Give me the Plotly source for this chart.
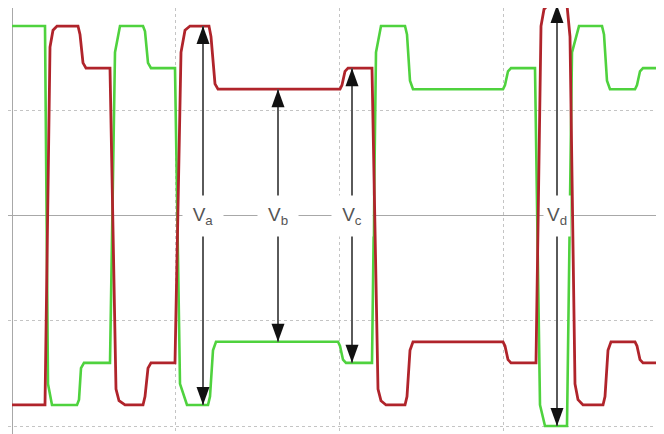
import plotly.graph_objects as go

# Time axis in samples (one grid division = 163.67 samples), voltage in divisions
t_green = [0, 33, 36, 40, 65, 67, 69, 72, 98, 103, 108, 131, 133, 136, 139,
           163, 168, 175, 196, 198, 201, 204, 326, 328, 331, 334, 360, 364, 369,
           393, 395, 398, 401, 491, 493, 496, 499, 523, 528, 533, 555, 560, 567,
           590, 592, 595, 598, 623, 625, 628, 631, 652]
v_green = [1.8, 1.8, -1.6, -1.8, -1.8, -1.75, -1.45, -1.4, -1.4, 1.55, 1.8, 1.8, 1.75, 1.45, 1.4,
           1.4, -1.6, -1.8, -1.8, -1.72, -1.28, -1.2, -1.2, -1.24, -1.37, -1.4, -1.4, 1.55, 1.8,
           1.8, 1.72, 1.28, 1.2, 1.2, 1.24, 1.37, 1.4, 1.4, -1.8, -2.0, -2.0, 1.55, 1.8,
           1.8, 1.72, 1.28, 1.2, 1.2, 1.24, 1.37, 1.4, 1.4]

t_red = [0, 33, 38, 41, 45, 66, 68, 71, 74, 98, 104, 107, 113, 131, 133, 136, 139,
         163, 169, 173, 178, 197, 199, 203, 206, 328, 330, 333, 336, 360, 366, 369, 374,
         393, 395, 398, 401, 491, 493, 496, 499, 524, 529, 532, 536, 555, 558, 563, 566, 571,
         591, 593, 596, 599, 623, 625, 628, 631, 652]
v_red = [-1.8, -1.8, 1.6, 1.76, 1.8, 1.8, 1.72, 1.45, 1.4, 1.4, -1.65, -1.76, -1.8, -1.8, -1.72, -1.45, -1.4,
         -1.4, 1.55, 1.76, 1.8, 1.8, 1.7, 1.25, 1.2, 1.2, 1.24, 1.37, 1.4, 1.4, -1.65, -1.76, -1.8,
         -1.8, -1.72, -1.28, -1.2, -1.2, -1.24, -1.37, -1.4, -1.4, 1.8, 1.96, 2.0, 2.0, 1.7, -1.6, -1.75, -1.8,
         -1.8, -1.72, -1.28, -1.2, -1.2, -1.24, -1.37, -1.4, -1.4]

arrow_labels = ["V<sub>a</sub>", "V<sub>b</sub>", "V<sub>c</sub>", "V<sub>d</sub>"]
arrow_t = [191, 266, 340, 545]
arrow_top = [1.8, 1.2, 1.4, 2.0]
arrow_bottom = [-1.8, -1.2, -1.4, -2.0]
label_widths = [36, 36, 36, 22]

DIV_T = 163.67

fig = go.Figure()
fig.add_trace(go.Scatter(x=t_green, y=v_green, mode="lines",
                         line=dict(color="#4fd23e", width=2.6), hoverinfo="skip"))
fig.add_trace(go.Scatter(x=t_red, y=v_red, mode="lines",
                         line=dict(color="#b0242b", width=2.8), hoverinfo="skip"))

shapes = []
annotations = []
for lab, xt, yt, yb, w in zip(arrow_labels, arrow_t, arrow_top, arrow_bottom, label_widths):
    shapes.append(dict(type="line", xref="x", yref="y", x0=xt, x1=xt, y0=yb, y1=yt,
                       line=dict(color="#5a5a5a", width=2)))
    shapes.append(dict(type="path", xref="x", yref="y", xsizemode="pixel", ysizemode="pixel",
                       xanchor=xt, yanchor=yt, path="M0,0 L-6.5,-18 L6.5,-18 Z",
                       fillcolor="#111111", line=dict(width=0)))
    shapes.append(dict(type="path", xref="x", yref="y", xsizemode="pixel", ysizemode="pixel",
                       xanchor=xt, yanchor=yb, path="M0,0 L-6.5,18 L6.5,18 Z",
                       fillcolor="#111111", line=dict(width=0)))
    annotations.append(dict(x=xt, y=0, xref="x", yref="y", text=lab, showarrow=False,
                            font=dict(family="Liberation Sans, Arial, sans-serif", size=19, color="#555555"),
                            bgcolor="white", width=w, height=36, borderpad=2,
                            xanchor="center", yanchor="middle"))

fig.update_layout(
    width=656, height=426,
    margin=dict(l=0, r=0, t=0, b=0),
    paper_bgcolor="white", plot_bgcolor="white",
    showlegend=False,
    shapes=shapes, annotations=annotations,
    xaxis=dict(range=[-4, 652], tick0=0, dtick=DIV_T, showgrid=True, gridcolor="#c4c4c4",
               griddash="dot", gridwidth=1, zeroline=True, zerolinecolor="#a8a8a8",
               zerolinewidth=1, showticklabels=False, ticks="", showline=False),
    yaxis=dict(range=[-2.076, 1.9715], tick0=0, dtick=1, showgrid=True, gridcolor="#c4c4c4",
               griddash="dot", gridwidth=1, zeroline=True, zerolinecolor="#a8a8a8",
               zerolinewidth=1, showticklabels=False, ticks="", showline=False),
)

fig.write_html("out.html")
